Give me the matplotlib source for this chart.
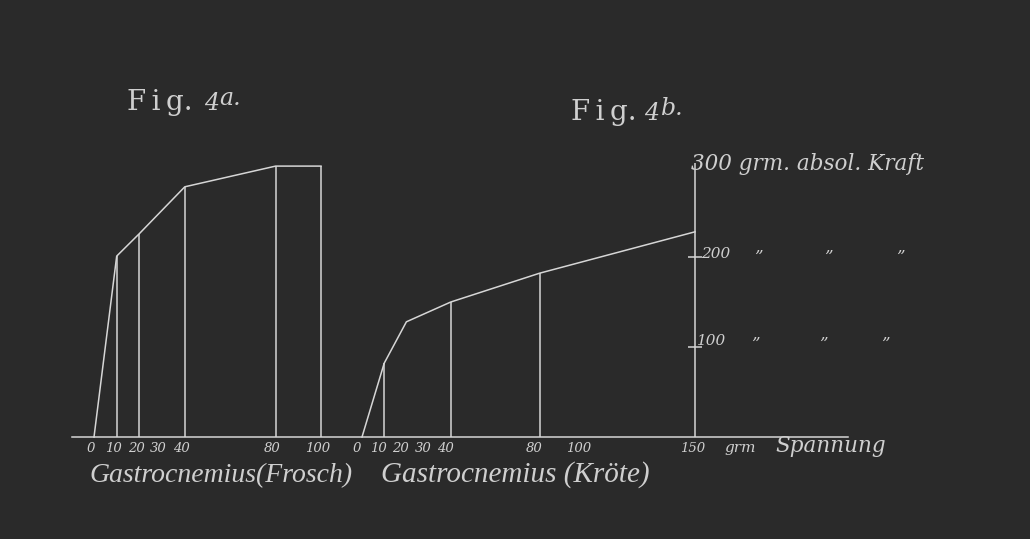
import matplotlib
matplotlib.use("Agg")
import matplotlib.pyplot as plt
from matplotlib.lines import Line2D

# ---- data ----
frosch_x = [0, 10, 20, 40, 80, 100]
frosch_y = [0, 201, 226, 278, 301, 301]
frosch_verticals = [10, 20, 40, 80, 100]
frosch_ticks = [0, 10, 20, 30, 40, 80, 100]

kroete_x = [0, 10, 20, 40, 80, 150]
kroete_y = [0, 82, 128, 150, 182, 228]
kroete_verticals = [10, 40, 80]
kroete_ticks = [0, 10, 20, 30, 40, 80, 100, 150]
force_ticks = [100, 200, 300]

W, H = 1030, 539
BG = "#2a2a2a"
FG = "#d6d6d6"
TXT = "#cfcfcf"
LW = 1.1
SCRIPT = "DejaVu Serif"
SCRIPT2 = "Liberation Serif"

fig = plt.figure(figsize=(W / 100, H / 100), dpi=100)
fig.patch.set_facecolor(BG)

def rect(x0, y0, x1, y1):
    return [x0 / W, 1 - y1 / H, (x1 - x0) / W, (y1 - y0) / H]

def ptext(x, y, s, **kw):
    kw.setdefault("color", TXT)
    kw.setdefault("ha", "left")
    kw.setdefault("va", "baseline")
    fig.text(x / W, 1 - y / H, s, **kw)

Y_BASE, Y_TOP = 437, 167
axa = fig.add_axes(rect(94, Y_TOP, 321, Y_BASE))
axb = fig.add_axes(rect(362, Y_TOP, 695, Y_BASE))
for ax, xmax in ((axa, 100), (axb, 150)):
    ax.set_xlim(0, xmax)
    ax.set_ylim(0, 300)
    ax.axis("off")
    ax.patch.set_alpha(0)

# Fig 4a
axa.plot(frosch_x, frosch_y, color=FG, lw=LW, clip_on=False)
fy = dict(zip(frosch_x, frosch_y))
axa.vlines(frosch_verticals, 0, [fy[v] for v in frosch_verticals], color=FG, lw=LW, clip_on=False)
for t in frosch_ticks:
    axa.text(t - 1.5, -17, str(t), color=TXT, fontsize=9.5, style="italic",
             family=SCRIPT, ha="center", va="baseline", clip_on=False)

# Fig 4b
axb.plot(kroete_x, kroete_y, color=FG, lw=LW, clip_on=False)
ky = dict(zip(kroete_x, kroete_y))
axb.vlines(kroete_verticals, 0, [ky[v] for v in kroete_verticals], color=FG, lw=LW, clip_on=False)
axb.vlines([150], 0, 305, color=FG, lw=LW, clip_on=False)
for t in kroete_ticks:
    axb.text(t - 2.5 if t < 150 else t - 1, -17, str(t), color=TXT, fontsize=9.5, style="italic",
             family=SCRIPT, ha="center", va="baseline", clip_on=False)
for t in force_ticks[:2]:
    axb.hlines(t, 147, 153, color=FG, lw=LW, clip_on=False)

# force labels
ptext(691, 170, "300 grm. absol. Kraft", fontsize=15.5, style="italic", family=SCRIPT)
ptext(701, 258, "200", fontsize=11, style="italic", family=SCRIPT)
for qx in (758, 828, 900):
    ptext(qx, 262, "\u201d", fontsize=12, style="italic", family=SCRIPT, ha="center")
ptext(697, 345, "100", fontsize=11, style="italic", family=SCRIPT)
for qx in (755, 823, 885):
    ptext(qx, 349, "\u201d", fontsize=12, style="italic", family=SCRIPT, ha="center")

ptext(724, 452, "grm", fontsize=11, style="italic", family=SCRIPT)
ptext(775, 452, "Spannung", fontsize=15.5, style="italic", family=SCRIPT)

# baseline
fig.add_artist(Line2D([72 / W, 848 / W], [1 - Y_BASE / H] * 2, color=FG, lw=LW))

# captions
ptext(89, 482, "Gastrocnemius(Frosch)", fontsize=20, style="italic", family=SCRIPT2)
ptext(381, 482, "Gastrocnemius (Kröte)", fontsize=21, style="italic", family=SCRIPT2)

# figure titles
ptext(127, 110, "F\u2009i\u2009g.", fontsize=20, family="DejaVu Serif")
ptext(204, 110, "4", fontsize=17, style="italic", family="DejaVu Serif")
ptext(219, 105, "a.", fontsize=17, style="italic", family="DejaVu Serif")
ptext(571, 120, "F\u2009i\u2009g.", fontsize=20, family="DejaVu Serif")
ptext(644, 120, "4", fontsize=17, style="italic", family="DejaVu Serif")
ptext(661, 115, "b.", fontsize=17, style="italic", family="DejaVu Serif")

fig.savefig("out.png", dpi=100, facecolor=BG)
